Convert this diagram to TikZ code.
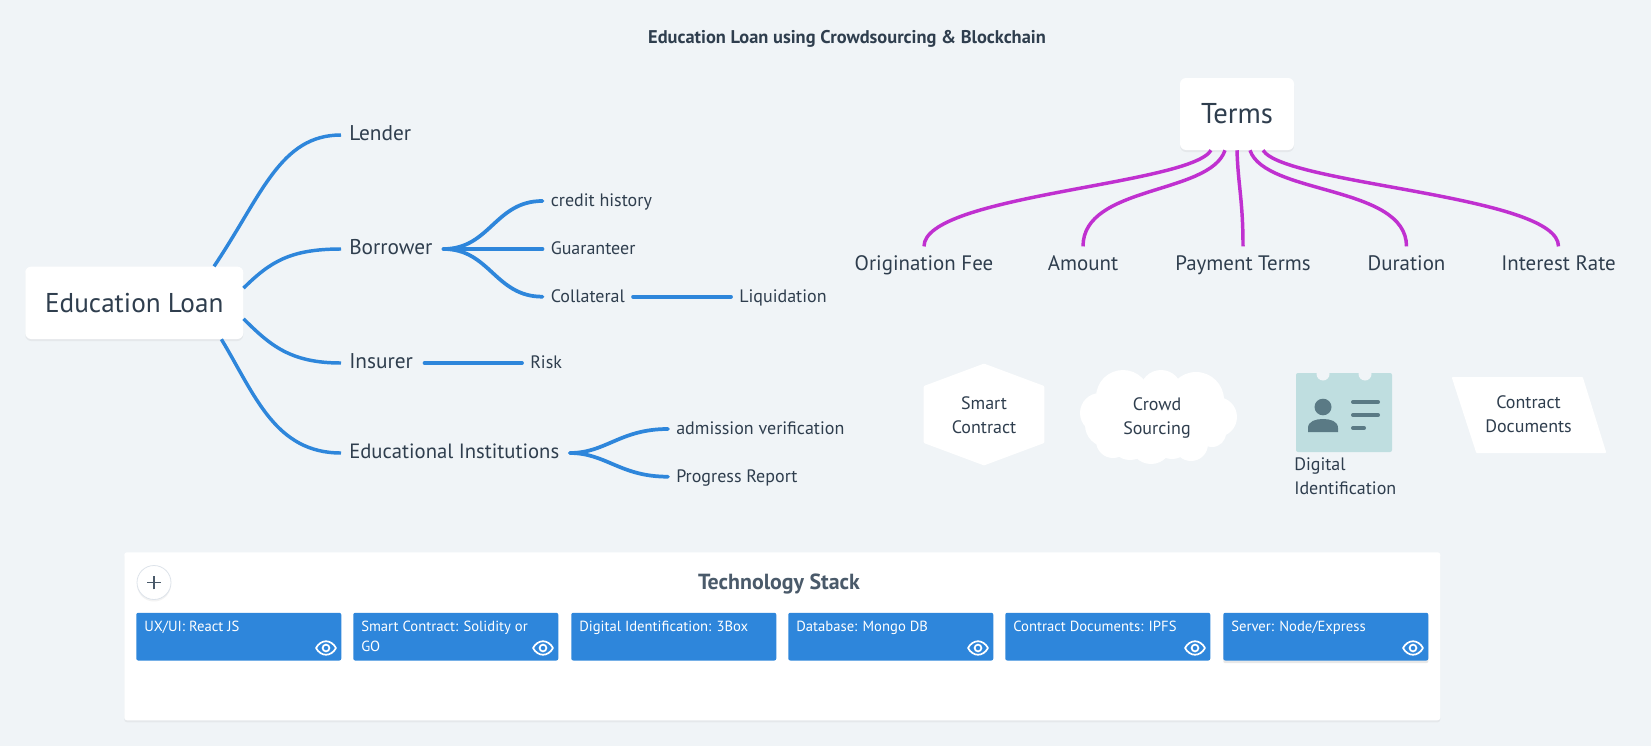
\documentclass[tikz,border=0pt]{standalone}
\usepackage{fontspec}
\setmainfont{PT Sans}
\usetikzlibrary{shadows,calc}
\definecolor{bgc}{HTML}{F0F4F7}
\definecolor{bluec}{HTML}{2E86DB}
\definecolor{purpc}{HTML}{C030D0}
\definecolor{txtc}{HTML}{2F3E4E}
\definecolor{headc}{HTML}{4A5A6A}
\definecolor{tealc}{HTML}{BFDEE0}
\definecolor{darkteal}{HTML}{5A7A85}
\definecolor{ringc}{HTML}{DDE3EA}
\newcommand\fs[1]{\fontsize{#1}{#1}\selectfont}
\newcommand\lbox[2]{\makebox[#1][l]{#2}}
\newcommand\cardtext[1]{\parbox[c][35.8pt][t]{141.75pt}{\vspace*{6pt}\raggedright #1}}
\tikzset{
  x=0.75pt,y=-0.75pt,
  softshadow/.style={drop shadow={shadow xshift=0pt,shadow yshift=-1.5pt,opacity=.08,fill=black!60}},
  rootbox/.style={fill=white,rounded corners=4.5pt,inner sep=0pt,text=txtc,font=\fs{20.4},softshadow},
  lvlone/.style={anchor=west,inner xsep=6pt,inner ysep=0pt,text=txtc,font=\fs{16},text height=11.5pt,text depth=2.9pt},
  lvltwo/.style={anchor=west,inner xsep=6pt,inner ysep=0pt,text=txtc,font=\fs{13.5},text height=11pt,text depth=2.4pt},
  termlab/.style={inner sep=0pt,minimum height=26pt,text=txtc,font=\fs{15.7},text height=12.5pt,text depth=2.5pt},
  shapetxt/.style={inner sep=0pt,text=txtc,font=\fs{13.5},align=center},
  branch/.style={draw=bluec,line width=2.8pt,line cap=round},
  rootbranch/.style={draw=bluec,line width=2.6pt},
  termbranch/.style={draw=purpc,line width=2.6pt},
  card/.style={fill=bluec,rounded corners=1.5pt,anchor=north west,inner xsep=6pt,inner ysep=0pt,text=white,font=\fs{11}},
  eye/.pic={
    \draw[white,line width=1.3pt,line join=round] (-10,0) .. controls (-5,-9) and (5,-9) .. (10,0) .. controls (5,9) and (-5,9) .. (-10,0) -- cycle;
    \draw[white,line width=1.3pt] (0,0) circle[radius=3.4];
  },
}
\begin{document}
\begin{tikzpicture}
\useasboundingbox (0,0) rectangle (1651,746);
\fill[bgc] (0,0) rectangle (1651,746);

\node[font=\bfseries\fs{13.8},text=txtc,inner sep=0pt] (title) at (847,39) {Education Loan using Crowdsourcing \& Blockchain};

% left mind map
\coordinate (rootc) at (134.25,302.8);
\coordinate (lenderp) at (341,135);
\coordinate (borrowerp) at (341,249);
\coordinate (insurerp) at (341,363);
\coordinate (eduip) at (341,453);

\node[lvlone] (lender) at (lenderp) {Lender};
\node[lvlone] (borrower) at (borrowerp) {\lbox{64.5pt}{Borrower}};
\node[lvlone] (insurer) at (insurerp) {\lbox{50.25pt}{Insurer}};
\node[lvlone,font=\fs{15.5}] (edui) at (eduip) {\lbox{159.3pt}{Educational Institutions}};
\node[lvltwo] (credit) at (542.5,201) {credit history};
\node[lvltwo] (guar) at (542.5,249) {Guaranteer};
\node[lvltwo] (coll) at (542.5,296.7) {\lbox{55.5pt}{Collateral}};
\node[lvltwo] (liq) at (731,296.7) {Liquidation};
\node[lvltwo] (risk) at (522,363) {Risk};
\node[lvltwo] (adm) at (668,429) {admission verification};
\node[lvltwo] (prog) at (668,476.7) {Progress Report};

\node[rootbox,minimum width=163.5pt,minimum height=54.3pt] (root) at (rootc) {Education Loan};

\draw[rootbranch] ([xshift=-22.1pt]root.north east) .. controls (262,195) and (280,135) .. (lender.west);
\draw[rootbranch] ([yshift=11pt]root.east) .. controls (270,262) and (290,249) .. (borrower.west);
\draw[rootbranch] ([yshift=-12pt]root.east) .. controls (270,345) and (290,363) .. (insurer.west);
\draw[rootbranch] ([xshift=-16.6pt]root.south east) .. controls (255,395) and (275,453) .. (edui.west);

\draw[branch] (borrower.east) .. controls (490,249) and (495,201) .. (credit.west);
\draw[branch] (borrower.east) -- (guar.west);
\draw[branch] (borrower.east) .. controls (490,249) and (495,296.7) .. (coll.west);
\draw[branch] (coll.east) -- (liq.west);
\draw[branch] (insurer.east) -- (risk.west);
\draw[branch] (edui.east) .. controls (606,453) and (620,429) .. (adm.west);
\draw[branch] (edui.east) .. controls (606,453) and (620,476.7) .. (prog.west);

% terms
\node[rootbox,minimum width=85.5pt,minimum height=54pt,font=\fs{21.5}] (terms) at (1237,114) {Terms};
\node[termlab] (orig) at (924,264) {Origination Fee};
\node[termlab] (amt) at (1083,264) {Amount};
\node[termlab] (pay) at (1243,264) {Payment Terms};
\node[termlab] (dur) at (1406.5,264) {Duration};
\node[termlab] (intr) at (1558.5,264) {Interest Rate};

\draw[termbranch] ([xshift=-19.5pt]terms.south) .. controls (1190,185) and (924,195) .. (orig.north);
\draw[termbranch] ([xshift=-9pt]terms.south) .. controls (1210,195) and (1083,185) .. (amt.north);
\draw[termbranch] (terms.south) .. controls (1238,185) and (1243,200) .. (pay.north);
\draw[termbranch] ([xshift=9.75pt]terms.south) .. controls (1265,195) and (1406.5,185) .. (dur.north);
\draw[termbranch] ([xshift=19.5pt]terms.south) .. controls (1285,185) and (1558.5,195) .. (intr.north);

% hexagon
\filldraw[white,line width=2pt,line join=round] (984,365) -- (1043,387) -- (1043,442) -- (984,464) -- (925,442) -- (925,387) -- cycle;
\node[shapetxt] (smart) at (984,415) {Smart\\[4.5pt]Contract};

% cloud
\begin{scope}[white]
\fill (1158,417) ellipse[x radius=60,y radius=35];
\fill (1123,397) circle[radius=27];
\fill (1161,391) circle[radius=21];
\fill (1196,400) circle[radius=28];
\fill (1217,417) circle[radius=20];
\fill (1100,413) circle[radius=20];
\fill (1107,425) circle[radius=22];
\fill (1113,441) circle[radius=17];
\fill (1130,440) circle[radius=20];
\fill (1151,443) circle[radius=21];
\fill (1172,440) circle[radius=19];
\fill (1191,444) circle[radius=17];
\fill (1212,433) circle[radius=14];
\end{scope}
\node[shapetxt] (crowd) at (1157,418) {Crowd\\[4.5pt]Sourcing};

% id card
\fill[tealc,rounded corners=1.5pt] (1296,373) rectangle (1392,452);
\fill[bgc] (1323,374) circle[radius=6.5];
\fill[bgc] (1365,374) circle[radius=6.5];
\fill[darkteal] (1323,407) ellipse[x radius=8.5,y radius=8.3];
\fill[darkteal] (1308,432) -- (1308,428) .. controls (1308,421) and (1316,419) .. (1323,419) .. controls (1330,419) and (1338,421) .. (1338,428) -- (1338,432) -- cycle;
\draw[darkteal,line width=3pt,line cap=round] (1353,402) -- (1378,402);
\draw[darkteal,line width=3pt,line cap=round] (1353,415) -- (1378,415);
\draw[darkteal,line width=3pt,line cap=round] (1353,428) -- (1364,428);
\node[shapetxt,align=left,anchor=north west] (digid) at (1294,457) {Digital\\[4.5pt]Identification};

% parallelogram
\filldraw[white,line width=1.5pt,line join=round] (1453,378) -- (1582,378) -- (1605,452) -- (1477,452) -- cycle;
\node[shapetxt] (contract) at (1528.5,414.5) {Contract\\[4.5pt]Documents};

% stack panel
\node[fill=white,rounded corners=2pt,anchor=north west,minimum width=987pt,minimum height=126pt,inner sep=0pt,softshadow] (panel) at (124,552) {};
\node[font=\bfseries\fs{16.4},text=headc,inner sep=0pt] (stack) at (779,584) {Technology Stack};
\node[circle,fill=white,draw=ringc,line width=.6pt,minimum size=25.5pt,inner sep=0pt,softshadow] (plus) at (154,582.5) {};
\draw[headc,line width=1.2pt] ([xshift=-5.2pt]plus.center) -- ([xshift=5.2pt]plus.center);
\draw[headc,line width=1.2pt] ([yshift=-5.2pt]plus.center) -- ([yshift=5.2pt]plus.center);

\node[card] (c1) at (136,612.5) {\cardtext{UX/UI: React JS}};
\node[card] (c2) at (353,612.5) {\cardtext{Smart Contract: Solidity or\\[4pt]GO}};
\node[card] (c3) at (571,612.5) {\cardtext{Digital Identification: 3Box}};
\node[card] (c4) at (788,612.5) {\cardtext{Database: Mongo DB}};
\node[card] (c5) at (1005,612.5) {\cardtext{Contract Documents: IPFS}};
\node[card,drop shadow={shadow xshift=0pt,shadow yshift=-2pt,opacity=.15,fill=black!60}] (c6) at (1223,612.5) {\cardtext{Server: Node/Express}};
\pic at (326,648) {eye};
\pic at (543,648) {eye};
\pic at (978,648) {eye};
\pic at (1195,648) {eye};
\pic at (1413,648) {eye};
\end{tikzpicture}
\end{document}
